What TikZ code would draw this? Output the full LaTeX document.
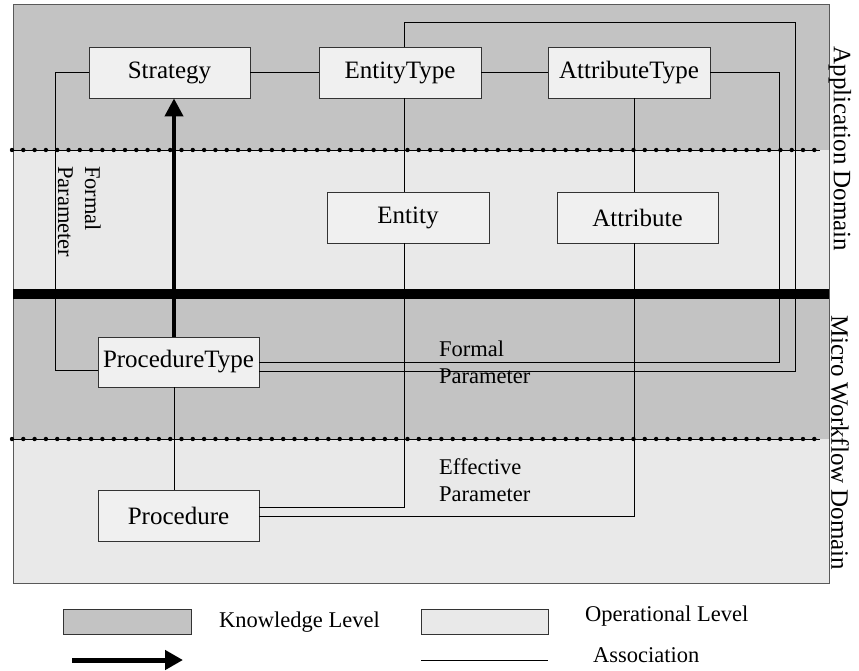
\documentclass[tikz,border=0pt]{standalone}
\usepackage{fontspec}
\setmainfont{Liberation Serif}
\usetikzlibrary{arrows.meta}
\definecolor{knowc}{HTML}{C3C3C3}
\definecolor{operc}{HTML}{E9E9E9}
\definecolor{boxc}{HTML}{F0F0F0}
\tikzset{
  classbox/.style={draw=black!80, fill=boxc, line width=0.8pt, inner sep=0pt,
    minimum width=161pt, minimum height=51pt, font=\fontsize{25}{30}\selectfont},
  assoc/.style={draw=black, line width=0.8pt},
  lbl/.style={inner sep=0pt, align=left, font=\fontsize{22.5}{27}\selectfont},
  domlbl/.style={inner sep=0pt, rotate=-90, font=\fontsize{25}{30}\selectfont},
  bigarrow/.style={line width=4pt, -{Triangle[length=18pt,width=18pt]}},
  dotline/.style={line width=0.8pt}
}
\begin{document}
\begin{tikzpicture}[x=1pt,y=-1pt]
\useasboundingbox (0,0) rectangle (859,670);
% level bands
\fill[knowc] (13,4) rectangle (829,150);
\fill[operc] (13,150) rectangle (829,294);
\fill[knowc] (13,294) rectangle (829,439);
\fill[operc] (13,439) rectangle (829,583);
\draw[black!65, line width=0.9pt] (13,4) rectangle (829,583);
% dotted separators
\foreach \yy in {150,439} {
  \draw[dotline] (12,\yy) -- (820,\yy);
  \foreach \i in {0,...,71} \fill (12+\i*11.3,\yy) circle (2.2pt);
}
% thick domain separator
\fill (13,289) rectangle (829,299);
% helper coordinates
\coordinate (xL) at (55,0);
\coordinate (xP) at (174,0);
\coordinate (xE) at (404,0);
\coordinate (xA) at (634,0);
\coordinate (xR1) at (779,0);
\coordinate (topR) at (795.5,22);
% class boxes
\node[classbox] (Strategy) at (169.5,72.5) {Strategy};
\node[classbox, minimum width=162pt] (EntityType) at (400,72.5) {EntityType};
\node[classbox, minimum width=162pt] (AttributeType) at (629,72.5) {AttributeType};
\node[classbox, minimum width=162pt] (Entity) at (408,217.5) {Entity};
\node[classbox] (Attribute) at (637.5,217.5) {Attribute};
\node[classbox, minimum height=50pt] (ProcedureType) at (178.5,362) {ProcedureType};
\node[classbox] (Procedure) at (178.5,515.5) {Procedure};
% associations
\draw[assoc] (Strategy.east) -- (EntityType.west);
\draw[assoc] (EntityType.east) -- (AttributeType.west);
\draw[assoc] (Strategy.west) -- (Strategy.west -| xL) |- ([yshift=-8pt]ProcedureType.west);
\draw[assoc] (EntityType.north -| xE) |- (topR) |- ([yshift=-9pt]ProcedureType.east);
\draw[assoc] (AttributeType.east) -- (AttributeType.east -| xR1) |- (ProcedureType.east);
\draw[assoc] (EntityType.south -| xE) -- (Entity.north -| xE);
\draw[assoc] (Entity.south -| xE) |- ([yshift=8.5pt]Procedure.east);
\draw[assoc] (AttributeType.south -| xA) -- (Attribute.north -| xA);
\draw[assoc] (Attribute.south -| xA) |- ([yshift=-0.5pt]Procedure.east);
\draw[assoc] (ProcedureType.south -| xP) -- (Procedure.north -| xP);
% instantiation arrow
\draw[bigarrow] (ProcedureType.north -| xP) -- (Strategy.south -| xP);
% labels
\node[lbl, rotate=-90, anchor=north west] (fp1) at (101,166) {Formal\\Parameter};
\node[lbl, anchor=base west] (fp2) at (439,383) {Formal\\Parameter};
\node[lbl, anchor=base west] (ep) at (439,501) {Effective\\Parameter};
\node[domlbl] (appd) at (840,149) {Application Domain};
\node[domlbl] (mwd) at (840,443) {Micro Workflow Domain};
% legend
\node[draw=black!80, fill=knowc, line width=0.8pt, minimum width=128pt, minimum height=25pt, inner sep=0pt] (lk) at (127,621.5) {};
\node[lbl, anchor=west] (lkt) at (219,622) {Knowledge Level};
\node[draw=black!80, fill=operc, line width=0.8pt, minimum width=127pt, minimum height=25pt, inner sep=0pt] (lo) at (484.5,621.5) {};
\node[lbl, anchor=west] (lot) at (585,616) {Operational Level};
\coordinate (la1) at (72,660);
\coordinate (la2) at (183,660);
\draw[line width=5pt, -{Triangle[length=18pt,width=19pt]}] (la1) -- (la2);
\coordinate (ls1) at (421,660);
\coordinate (ls2) at (548,660);
\draw[assoc] (ls1) -- (ls2);
\node[lbl, anchor=west] (lst) at (593,655) {Association};
\end{tikzpicture}
\end{document}
